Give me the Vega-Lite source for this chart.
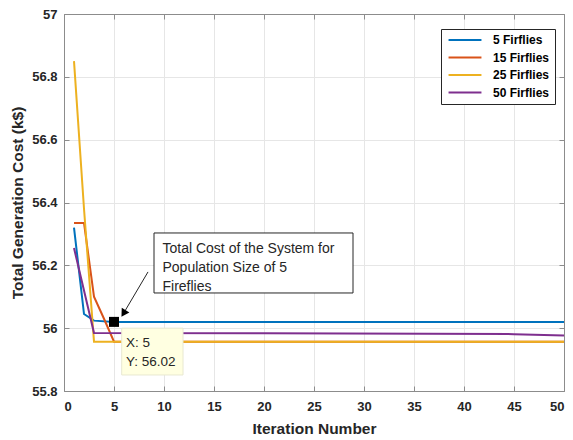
{
  "$schema": "https://vega.github.io/schema/vega-lite/v6.json",
  "width": 500,
  "height": 377,
  "autosize": "none",
  "padding": {"left": 64, "top": 14, "right": 9, "bottom": 49},
  "background": "white",
  "config": {
    "font": "Liberation Sans",
    "view": {"stroke": "#8c8c8c", "strokeWidth": 1},
    "axis": {
      "labelFont": "Liberation Sans",
      "labelFontWeight": "bold",
      "labelFontSize": 13,
      "labelColor": "#262626",
      "titleFont": "Liberation Sans",
      "titleFontWeight": "bold",
      "titleFontSize": 15.5,
      "titleColor": "#262626",
      "domainColor": "#8c8c8c",
      "tickColor": "#8c8c8c",
      "gridColor": "#e6e6e6",
      "gridWidth": 1
    }
  },
  "datasets": {
    "curves": [
      {"iteration": 1, "cost": 56.32, "series": "5 Firflies"},
      {"iteration": 2, "cost": 56.045, "series": "5 Firflies"},
      {"iteration": 3, "cost": 56.024, "series": "5 Firflies"},
      {"iteration": 5, "cost": 56.02, "series": "5 Firflies"},
      {"iteration": 50, "cost": 56.02, "series": "5 Firflies"},
      {"iteration": 1, "cost": 56.335, "series": "15 Firflies"},
      {"iteration": 2, "cost": 56.335, "series": "15 Firflies"},
      {"iteration": 3, "cost": 56.1, "series": "15 Firflies"},
      {"iteration": 4, "cost": 56.03, "series": "15 Firflies"},
      {"iteration": 5, "cost": 55.957, "series": "15 Firflies"},
      {"iteration": 50, "cost": 55.957, "series": "15 Firflies"},
      {"iteration": 1, "cost": 56.85, "series": "25 Firflies"},
      {"iteration": 2, "cost": 56.38, "series": "25 Firflies"},
      {"iteration": 3, "cost": 55.957, "series": "25 Firflies"},
      {"iteration": 50, "cost": 55.957, "series": "25 Firflies"},
      {"iteration": 1, "cost": 56.255, "series": "50 Firflies"},
      {"iteration": 2, "cost": 56.12, "series": "50 Firflies"},
      {"iteration": 3, "cost": 55.985, "series": "50 Firflies"},
      {"iteration": 20, "cost": 55.984, "series": "50 Firflies"},
      {"iteration": 45, "cost": 55.981, "series": "50 Firflies"},
      {"iteration": 50, "cost": 55.977, "series": "50 Firflies"}
    ],
    "textbox": [
      {"iteration": 9.0, "iteration2": 28.9, "cost": 56.303, "cost2": 56.112}
    ],
    "textboxLines": [
      {"iteration": 9.85, "cost": 56.252, "label": "Total Cost of the System for"},
      {"iteration": 9.85, "cost": 56.192, "label": "Population Size of 5"},
      {"iteration": 9.85, "cost": 56.131, "label": "Fireflies"}
    ],
    "arrow": [
      {"iteration": 8.4, "cost": 56.179, "iteration2": 6.1, "cost2": 56.055}
    ],
    "arrowHead": [
      {"iteration": 5.95, "cost": 56.047}
    ],
    "tipBox": [
      {"iteration": 5.77, "iteration2": 11.9, "cost": 56.0, "cost2": 55.851}
    ],
    "tipLines": [
      {"iteration": 6.2, "cost": 55.952, "label": "X: 5"},
      {"iteration": 6.2, "cost": 55.891, "label": "Y: 56.02"}
    ],
    "tipPoint": [
      {"iteration": 5, "cost": 56.02}
    ]
  },
  "resolve": {"axis": {"x": "independent", "y": "independent"}},
  "layer": [
    {
      "data": {"name": "curves"},
      "mark": {"type": "line", "strokeWidth": 2},
      "encoding": {
        "x": {
          "field": "iteration", "type": "quantitative",
          "scale": {"domain": [0, 50], "nice": false, "zero": false},
          "axis": {"title": "Iteration Number", "values": [0,5,10,15,20,25,30,35,40,45,50], "tickSize": -5, "labelPadding": 14, "titlePadding": 8, "grid": true}
        },
        "y": {
          "field": "cost", "type": "quantitative",
          "scale": {"domain": [55.8, 57], "nice": false, "zero": false},
          "axis": {"title": "Total Generation Cost (k$)", "values": [55.8,56,56.2,56.4,56.6,56.8,57], "format": ".1~f", "tickSize": -5, "labelPadding": 12, "titlePadding": 6, "grid": true}
        },
        "color": {
          "field": "series", "type": "nominal",
          "scale": {"domain": ["5 Firflies", "15 Firflies", "25 Firflies", "50 Firflies"], "range": ["#0072BD", "#D95319", "#EDB120", "#7E2F8E"]},
          "legend": {
            "title": null,
            "orient": "none",
            "legendX": 377,
            "legendY": 15,
            "fillColor": "white",
            "strokeColor": "#262626",
            "padding": 5,
            "symbolType": "M-4.7,0H4.7",
            "symbolSize": 49,
            "symbolStrokeWidth": 2,
            "symbolOffset": 13,
            "labelFont": "Liberation Sans",
            "labelFontWeight": "bold",
            "labelFontSize": 12,
            "labelColor": "#000000",
            "rowPadding": 5.5,
            "labelOffset": 22
          }
        },
        "order": {"field": "iteration", "type": "quantitative"}
      }
    },
    {
      "data": {"name": "curves"},
      "mark": {"type": "line", "opacity": 0},
      "encoding": {
        "x": {"field": "iteration", "type": "quantitative", "axis": {"orient": "top", "labels": false, "title": null, "grid": false, "tickSize": -5, "values": [0,5,10,15,20,25,30,35,40,45,50]}},
        "y": {"field": "cost", "type": "quantitative", "axis": {"orient": "right", "labels": false, "title": null, "grid": false, "tickSize": -5, "values": [55.8,56,56.2,56.4,56.6,56.8,57]}}
      }
    },
    {
      "data": {"name": "textbox"},
      "mark": {"type": "rect", "fill": "white", "stroke": "#262626", "strokeWidth": 1},
      "encoding": {
        "x": {"field": "iteration", "type": "quantitative", "axis": null},
        "x2": {"field": "iteration2"},
        "y": {"field": "cost", "type": "quantitative", "axis": null},
        "y2": {"field": "cost2"}
      }
    },
    {
      "data": {"name": "textboxLines"},
      "mark": {"type": "text", "align": "left", "baseline": "middle", "fontSize": 14, "font": "Liberation Sans", "color": "#262626"},
      "encoding": {
        "x": {"field": "iteration", "type": "quantitative", "axis": null},
        "y": {"field": "cost", "type": "quantitative", "axis": null},
        "text": {"field": "label"}
      }
    },
    {
      "data": {"name": "arrow"},
      "mark": {"type": "rule", "color": "#262626", "strokeWidth": 1},
      "encoding": {
        "x": {"field": "iteration", "type": "quantitative", "axis": null},
        "y": {"field": "cost", "type": "quantitative", "axis": null},
        "x2": {"field": "iteration2"},
        "y2": {"field": "cost2"}
      }
    },
    {
      "data": {"name": "arrowHead"},
      "mark": {"type": "point", "shape": "triangle-up", "angle": 212, "filled": true, "color": "#000000", "size": 80, "opacity": 1},
      "encoding": {
        "x": {"field": "iteration", "type": "quantitative", "axis": null},
        "y": {"field": "cost", "type": "quantitative", "axis": null}
      }
    },
    {
      "data": {"name": "tipBox"},
      "mark": {"type": "rect", "fill": "#FFFFE1", "stroke": "#e8e8d0", "strokeWidth": 1},
      "encoding": {
        "x": {"field": "iteration", "type": "quantitative", "axis": null},
        "x2": {"field": "iteration2"},
        "y": {"field": "cost", "type": "quantitative", "axis": null},
        "y2": {"field": "cost2"}
      }
    },
    {
      "data": {"name": "tipLines"},
      "mark": {"type": "text", "align": "left", "baseline": "middle", "fontSize": 13.5, "font": "Liberation Sans", "color": "#262626"},
      "encoding": {
        "x": {"field": "iteration", "type": "quantitative", "axis": null},
        "y": {"field": "cost", "type": "quantitative", "axis": null},
        "text": {"field": "label"}
      }
    },
    {
      "data": {"name": "tipPoint"},
      "mark": {"type": "point", "shape": "square", "filled": true, "color": "#000000", "size": 100, "opacity": 1},
      "encoding": {
        "x": {"field": "iteration", "type": "quantitative", "axis": null},
        "y": {"field": "cost", "type": "quantitative", "axis": null}
      }
    }
  ]
}
